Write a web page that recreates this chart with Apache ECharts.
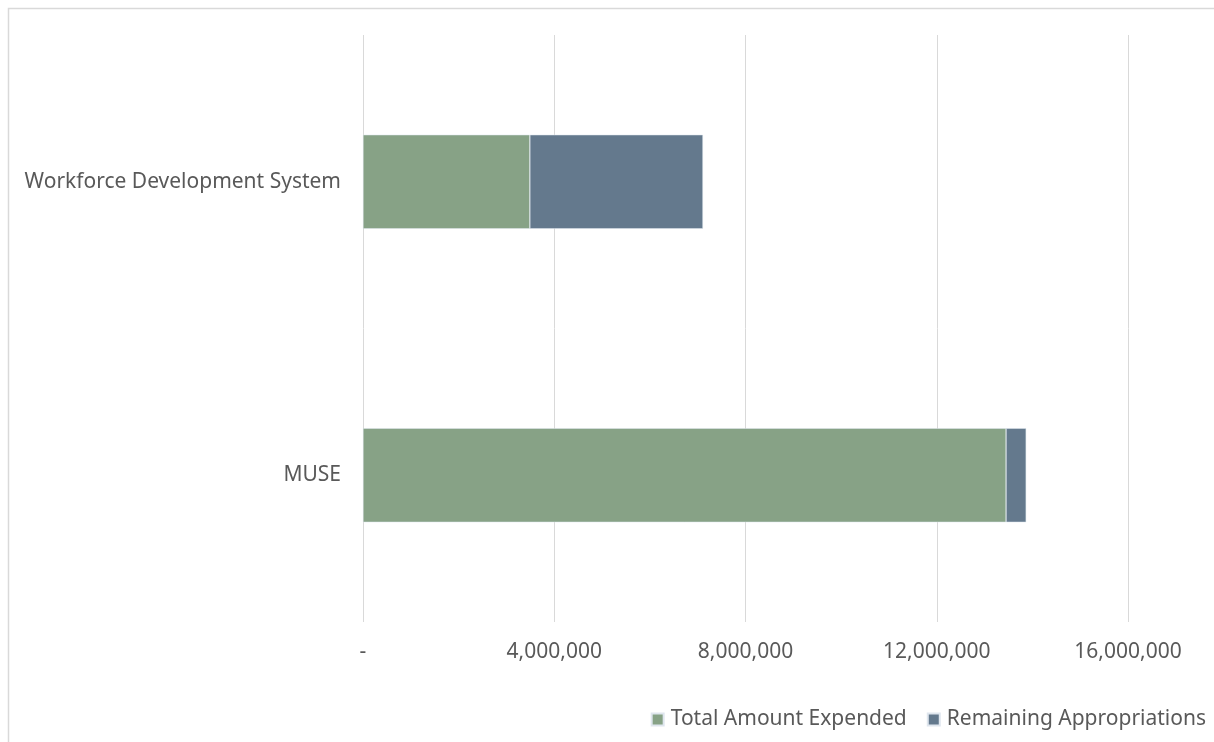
<!DOCTYPE html>
<html>
<head>
<meta charset="utf-8">
<script src="https://cdn.jsdelivr.net/npm/echarts@6/dist/echarts.min.js"></script>
<style>
html,body{margin:0;padding:0;background:#fff;}
#chart{width:1214px;height:742px;}
</style>
</head>
<body>
<div id="chart"></div>
<script>
const categories = ['MUSE', 'Workforce Development System'];
const totalExpended = [13450000, 3490000];
const remainingAppropriations = [420000, 3620000];
const seriesNames = ['Total Amount Expended', 'Remaining Appropriations'];

const chart = echarts.init(document.getElementById('chart'));
const font = 'Noto Sans';
const txt = '#595959';
chart.setOption({
  animation: false,
  graphic: [{
    type: 'rect', left: 6, top: 6,
    shape: {width: 1240, height: 760},
    style: {fill: 'none', stroke: '#d9d9d9', lineWidth: 1.5},
    silent: true
  }],
  grid: {left: 363, right: 86, top: 35, bottom: 120},
  legend: {
    right: 3, bottom: 7,
    itemWidth: 12, itemHeight: 12, itemGap: 20,
    icon: 'rect',
    textStyle: {fontFamily: font, fontSize: 21, color: txt, padding: [0, 0, 0, 2]},
    data: seriesNames
  },
  xAxis: {
    type: 'value', min: 0, max: 16000000, interval: 4000000,
    axisLine: {show: false}, axisTick: {show: false},
    splitLine: {lineStyle: {color: '#d9d9d9', width: 1}},
    axisLabel: {
      fontFamily: font, fontSize: 21, color: txt, margin: 20,
      formatter: v => v === 0 ? '-' : v.toLocaleString('en-US')
    }
  },
  yAxis: {
    type: 'category', data: categories,
    axisLine: {show: false}, axisTick: {show: false},
    axisLabel: {fontFamily: font, fontSize: 21, color: txt, margin: 22}
  },
  series: [
    {name: seriesNames[0], type: 'bar', stack: 'a', barWidth: 94, data: totalExpended,
     itemStyle: {color: '#87A286', borderColor: '#dfe6ee', borderWidth: 0.5}},
    {name: seriesNames[1], type: 'bar', stack: 'a', barWidth: 94, data: remainingAppropriations,
     itemStyle: {color: '#64798D', borderColor: '#dfe6ee', borderWidth: 0.5}}
  ]
});
</script>
</body>
</html>
